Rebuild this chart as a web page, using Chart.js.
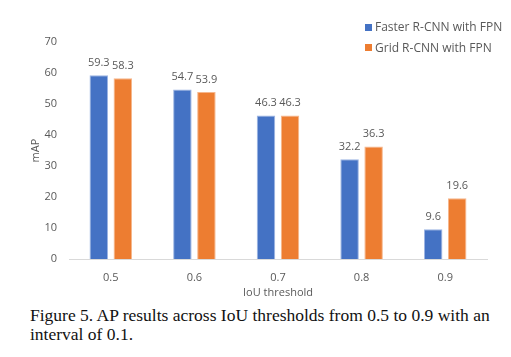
<!DOCTYPE html>
<html>
<head>
<meta charset="utf-8">
<script src="https://cdn.jsdelivr.net/npm/chart.js@4"></script>
<style>
  html, body { margin: 0; padding: 0; background: #fff; }
  body { width: 511px; height: 357px; position: relative; overflow: hidden; }
  #wrap { position: absolute; left: 0; top: 0; width: 511px; height: 302px; }
  #legend { position: absolute; left: 365px; top: 19px; font-family: "Open Sans", sans-serif; font-size: 12px; color: #595959; }
  .li { position: absolute; white-space: nowrap; height: 16px; line-height: 16px; }
  .sw { position: absolute; left: 0; top: 4.5px; width: 7px; height: 7px; }
  .lt { position: absolute; left: 10px; top: 0; }
  #caption { position: absolute; left: 30px; top: 305.5px; width: 475px; font-family: "Liberation Serif", "Times New Roman", serif; font-size: 17.5px; line-height: 19px; color: #111; }
</style>
</head>
<body>
<div id="wrap"><canvas id="c"></canvas></div>
<div id="legend"></div>
<div id="caption">Figure 5. AP results across IoU thresholds from 0.5 to 0.9 with an interval of 0.1.</div>
<script>
const categories = ["0.5", "0.6", "0.7", "0.8", "0.9"];
const seriesNames = ["Faster R-CNN with FPN", "Grid R-CNN with FPN"];
const fasterRCNN = [59.3, 54.7, 46.3, 32.2, 9.6];
const gridRCNN = [58.3, 53.9, 46.3, 36.3, 19.6];
const yTicks = [0, 10, 20, 30, 40, 50, 60, 70];
const xTitle = "IoU threshold";
const yTitle = "mAP";

const colors = ["#4472C4", "#ED7D31"];
const borders = ["#9db5e3", "#f6b68c"];
const textColor = "#595959";
const font = "Open Sans";

// HTML legend
const legend = document.getElementById("legend");
seriesNames.forEach((n, i) => {
  const li = document.createElement("div");
  li.className = "li";
  li.style.top = (i * 20.6) + "px";
  li.innerHTML = '<span class="sw" style="background:' + colors[i] + '"></span><span class="lt"></span>';
  li.querySelector(".lt").textContent = n;
  legend.appendChild(li);
});

const valueLabels = {
  id: "valueLabels",
  afterDatasetsDraw(chart) {
    const ctx = chart.ctx;
    ctx.save();
    ctx.font = "11px '" + font + "'";
    ctx.fillStyle = textColor;
    ctx.textAlign = "center";
    ctx.textBaseline = "middle";
    chart.data.datasets.forEach((ds, di) => {
      const meta = chart.getDatasetMeta(di);
      meta.data.forEach((bar, i) => {
        ctx.fillText(ds.data[i].toFixed(1), bar.x, bar.y - 12.5);
      });
    });
    ctx.restore();
  }
};

new Chart(document.getElementById("c"), {
  type: "bar",
  data: {
    labels: categories,
    datasets: [
      { label: seriesNames[0], data: fasterRCNN, backgroundColor: colors[0], borderColor: borders[0], borderWidth: 1 },
      { label: seriesNames[1], data: gridRCNN, backgroundColor: colors[1], borderColor: borders[1], borderWidth: 1 }
    ]
  },
  options: {
    responsive: true,
    maintainAspectRatio: false,
    animation: false,
    devicePixelRatio: 1,
    layout: { padding: { top: 42, right: 24, left: 0, bottom: 0 } },
    datasets: { bar: { categoryPercentage: 0.575, barPercentage: 0.77 } },
    plugins: { legend: { display: false }, tooltip: { enabled: false } },
    scales: {
      x: {
        grid: { display: false, drawTicks: false },
        border: { display: true, color: "#d9d9d9", width: 1 },
        ticks: { color: textColor, font: { family: font, size: 11 }, padding: 12 },
        title: { display: true, text: xTitle, color: textColor, font: { family: font, size: 11 }, padding: { top: 3, bottom: 3 } },
        afterFit(s) { s.height = 302 - 259; }
      },
      y: {
        min: 0, max: 70,
        afterBuildTicks(s) { s.ticks = yTicks.map(v => ({ value: v })); },
        grid: { display: false, drawTicks: false },
        border: { display: false },
        ticks: { color: textColor, font: { family: font, size: 11 }, padding: 12 },
        title: { display: true, text: yTitle, color: textColor, font: { family: font, size: 11 }, padding: { top: 29.5, bottom: 29.5 } },
        afterFit(s) { s.width = 69; }
      }
    }
  },
  plugins: [valueLabels]
});
</script>
</body>
</html>
